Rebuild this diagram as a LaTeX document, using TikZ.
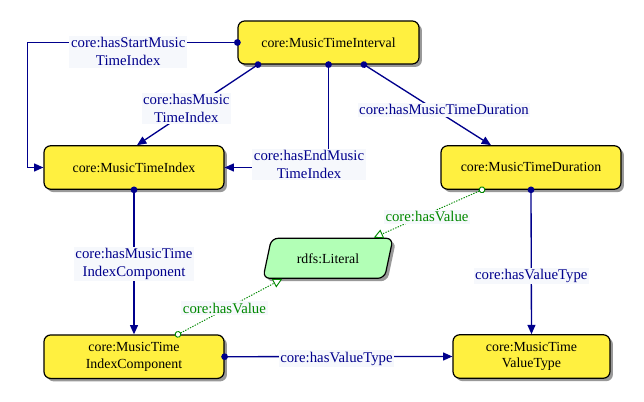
\documentclass[tikz,border=0pt]{standalone}
\usepackage{fontspec}
\setmainfont{Liberation Serif}
\usetikzlibrary{arrows.meta,shadows,shapes.geometric,calc}
\definecolor{navy}{RGB}{0,0,140}
\definecolor{grn}{RGB}{0,136,0}
\definecolor{clsfill}{RGB}{255,240,64}
\definecolor{litfill}{RGB}{178,255,182}
\definecolor{lblbg}{RGB}{246,248,252}
\newcommand{\nfont}{\fontsize{10.4}{12.5}\selectfont}
\newcommand{\efont}{\fontsize{11.1}{13.5}\selectfont}
\tikzset{
  cls/.style={draw=black, line width=0.9pt, fill=clsfill, rounded corners=5pt,
    align=center, font=\nfont, inner sep=2pt,
    drop shadow={shadow xshift=2.2pt, shadow yshift=-2.2pt, fill=black!40, opacity=1}},
  lit/.style={draw=black, line width=0.9pt, fill=litfill, rounded corners=5pt,
    trapezium, trapezium left angle=61, trapezium right angle=119,
    trapezium stretches body=true, font=\nfont, inner sep=2pt,
    drop shadow={shadow xshift=2.2pt, shadow yshift=-2.2pt, fill=black!40, opacity=1}},
  rel/.style={draw=navy, line width=1pt,
    {Circle[length=5pt]}-{Triangle[length=7pt,width=6pt]}, shorten <=-2.5pt},
  val/.style={draw=grn, line width=0.7pt, dash pattern=on 1pt off 1pt,
    {Circle[open,length=5pt,fill=white]}-{Triangle[open,length=7pt,width=7pt,fill=white]},
    shorten <=-2.5pt},
  elbl/.style={fill=lblbg, text=navy, font=\efont, align=center, inner sep=1.2pt},
  glbl/.style={fill=lblbg, text=grn, font=\efont, align=center, inner sep=1.2pt},
}
\begin{document}
\begin{tikzpicture}[x=0.75pt,y=-0.75pt]
\useasboundingbox (0,0) rectangle (644,402);
% nodes
\node[cls, minimum width=135.75pt, minimum height=32.25pt] (int) at (328.5,42.5) {core:MusicTimeInterval};
\node[cls, minimum width=135pt, minimum height=32.6pt] (idx) at (134,167.5) {core:MusicTimeIndex};
\node[cls, minimum width=135pt, minimum height=32.6pt] (dur) at (531,167.5) {core:MusicTimeDuration};
\node[cls, minimum width=135pt, minimum height=32.6pt] (ic) at (134,356.7) {core:MusicTime\\IndexComponent};
\node[cls, minimum width=117.75pt, minimum height=32.6pt] (vt) at (531.5,356.5) {core:MusicTime\\ValueType};
\node[lit, minimum width=97.5pt, minimum height=30pt] (lit) at (328,258.3) {rdfs:Literal};
% edges
\draw[rel] (int.west) -| node[elbl, pos=0.26, yshift=-6.9pt] {core:hasStartMusic\\TimeIndex} ($(idx.west)+(-16,0)$) -- (idx.west);
\draw[rel] ([xshift=-52.9pt]int.south) -- node[elbl, pos=0.543, xshift=-4.5pt] {core:hasMusic\\TimeIndex} ([xshift=2.25pt]idx.north);
\draw[rel] (int.south) |- node[elbl, pos=0.5, xshift=-14.6pt, yshift=2.25pt] {core:hasEndMusic\\TimeIndex} (idx.east);
\draw[rel] ([xshift=26.6pt]int.south) -- node[elbl, pos=0.561, xshift=6.6pt] {core:hasMusicTimeDuration} ([xshift=-30pt]dur.north);
\draw[rel] (idx.south) -- node[elbl, pos=0.512] {core:hasMusicTime\\IndexComponent} (ic.north);
\draw[rel] (dur.south) -- node[elbl, pos=0.596] {core:hasValueType} (vt.north);
\draw[rel] (ic.east) -- node[elbl, pos=0.491, yshift=-1.5pt] {core:hasValueType} (vt.west);
\draw[val] ([xshift=33pt]ic.north) -- node[glbl, pos=0.471, xshift=-2pt] {core:hasValue} ([xshift=15pt]lit.bottom left corner);
\draw[val] ([xshift=-36.75pt]dur.south) -- node[glbl, pos=0.562, xshift=4.4pt] {core:hasValue} ([xshift=-15pt]lit.top right corner);
\end{tikzpicture}
\end{document}
